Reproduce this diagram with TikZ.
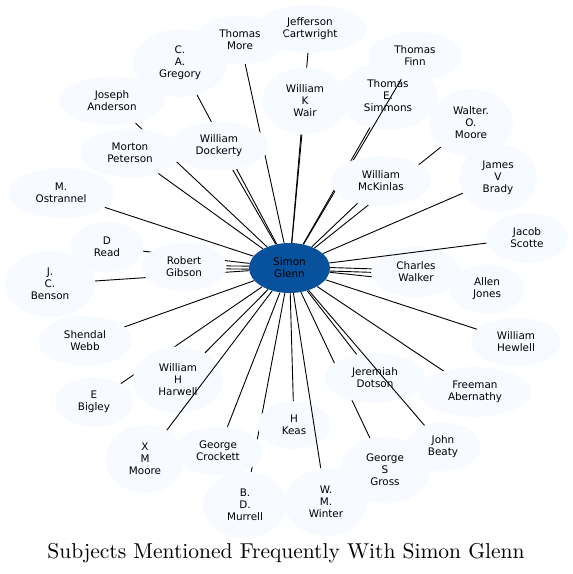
\documentclass[tikz,border=0pt]{standalone}
\usepackage{fontspec}
\newfontfamily\nodefont{DejaVu Sans}
\newfontfamily\titlefont{lmroman10-regular.otf}
\usetikzlibrary{shapes.geometric}
\definecolor{pale}{HTML}{F7FBFF}
\definecolor{hub}{HTML}{08519C}
\pgfdeclarelayer{bg}
\pgfdeclarelayer{lown}
\pgfdeclarelayer{mid}
\pgfsetlayers{bg,lown,mid,main}
\begin{document}
\begin{tikzpicture}[x=1pt,y=-1pt,
  person/.style={ellipse, fill=pale, draw=none, inner sep=0pt, align=center, text=black,
    font=\nodefont\fontsize{10.4}{12}\selectfont},
  hubnode/.style={person, fill=hub},
  link/.style={line width=0.9pt, black},
  titletext/.style={font=\titlefont\fontsize{21.5}{25}\selectfont, inner sep=0pt}]
\useasboundingbox (0,0) rectangle (573,574);

% nodes that some connectors run across
\begin{pgfonlayer}{lown}
\node[person, minimum width=94, minimum height=48] (finn) at (415,56) {Thomas\\Finn};
\node[person, minimum width=100, minimum height=67] (simmons) at (388,96) {Thomas\\E.\\Simmons};
\node[person, minimum width=90, minimum height=50] (walker) at (416,272) {Charles\\Walker};
\node[person, minimum width=90, minimum height=67] (harwell) at (178,380) {William\\H\\Harwell};
\node[person, minimum width=101, minimum height=50] (dotson) at (375,378) {Jeremiah\\Dotson};
\node[person, minimum width=73, minimum height=48] (keas) at (294,425) {H\\Keas};
\end{pgfonlayer}

\node[hubnode, minimum width=81, minimum height=50] (c) at (289.5,268) {Simon\\Glenn};
\node[person, minimum width=114, minimum height=48] (jeff) at (310,29) {Jefferson\\Cartwright};
\node[person, minimum width=94, minimum height=68] (gregory) at (180,63) {C.\\A.\\Gregory};
\node[person, minimum width=90, minimum height=48] (more) at (240,40) {Thomas\\More};
\node[person, minimum width=86, minimum height=67] (wair) at (305,101) {William\\K\\Wair};
\node[person, minimum width=84, minimum height=68] (walter) at (471,123) {Walter.\\O.\\Moore};
\node[person, minimum width=106, minimum height=49] (anderson) at (112,101) {Joseph\\Anderson};
\node[person, minimum width=100, minimum height=49] (peterson) at (130,153) {Morton\\Peterson};
\node[person, minimum width=99, minimum height=49] (dockerty) at (219,146) {William\\Dockerty};
\node[person, minimum width=106, minimum height=50] (ostrannel) at (61,193) {M.\\Ostrannel};
\node[person, minimum width=100, minimum height=50] (mckinlas) at (381,181) {William\\McKinlas};
\node[person, minimum width=78, minimum height=68] (brady) at (498,178) {James\\V\\Brady};
\node[person, minimum width=73, minimum height=50] (read) at (107,247) {D\\Read};
\node[person, minimum width=90, minimum height=67] (benson) at (50,284) {J.\\C.\\Benson};
\node[person, minimum width=85, minimum height=49] (gibson) at (184,267) {Robert\\Gibson};
\node[person, minimum width=94, minimum height=50] (shendal) at (85,341) {Shendal\\Webb};
\node[person, minimum width=82, minimum height=50] (jacob) at (527,238) {Jacob\\Scotte};
\node[person, minimum width=75, minimum height=49] (jones) at (487,289) {Allen\\Jones};
\node[person, minimum width=90, minimum height=49] (hewlell) at (516,342) {William\\Hewlell};
\node[person, minimum width=78, minimum height=50] (bigley) at (94,402) {E\\Bigley};
\node[person, minimum width=79, minimum height=68] (xmoore) at (145,459) {X\\M\\Moore};
\node[person, minimum width=90, minimum height=49] (crockett) at (218,451) {George\\Crockett};
\node[person, minimum width=84, minimum height=66] (murrell) at (245,505) {B.\\D.\\Murrell};
\node[person, minimum width=113, minimum height=50] (abernathy) at (475,392) {Freeman\\Abernathy};
\node[person, minimum width=90, minimum height=67] (gross) at (385,470) {George\\S\\Gross};
\node[person, minimum width=75, minimum height=49] (beaty) at (443,447) {John\\Beaty};
\node[person, minimum width=82, minimum height=68] (winter) at (326,502) {W.\\M.\\Winter};

\node[titletext, anchor=base] (title) at (286,558) {Subjects Mentioned Frequently With Simon Glenn};

% connectors under the nodes
\begin{pgfonlayer}{bg}
\foreach \n in {gregory,more,jeff,simmons,wair,walter,anderson,peterson,dockerty,ostrannel,
  mckinlas,brady,read,benson,shendal,jones,hewlell,bigley,harwell,crockett,murrell,
  dotson,abernathy,keas,gross}
  \draw[link] (c) -- (\n);
\draw[link] ([yshift=1.5pt]c.center) -- ([yshift=1.5pt]gibson.center);
\draw[link] ([yshift=-1.5pt]c.center) -- ([yshift=-1.5pt]gibson.center);
\draw[link] ([yshift=1.75pt]c.center) -- ([yshift=1.75pt]walker.center);
\draw[link] ([yshift=-1.75pt]c.center) -- ([yshift=-1.75pt]walker.center);
\end{pgfonlayer}

% connectors that run across some nodes
\begin{pgfonlayer}{mid}
\foreach \n in {finn,xmoore,beaty,jacob,winter}
  \draw[link] (c) -- (\n);
\end{pgfonlayer}
\end{tikzpicture}
\end{document}
